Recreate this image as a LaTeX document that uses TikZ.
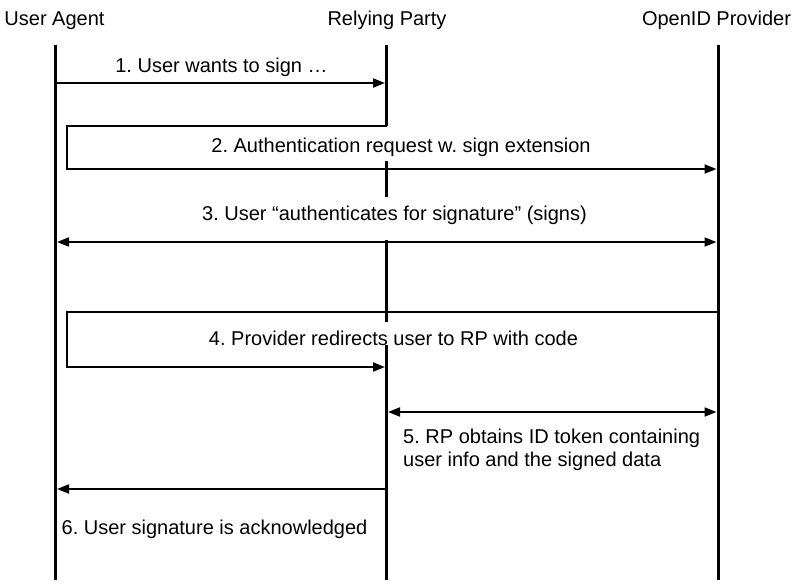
\documentclass[tikz,border=0pt]{standalone}
\usepackage{fontspec}
\setmainfont{Liberation Sans}
\usetikzlibrary{arrows.meta}
\frenchspacing
\begin{document}
\begin{tikzpicture}[x=1pt,y=-1pt,
  life/.style={line width=3pt},
  tip/.tip={Triangle[length=12pt,width=9pt]},
  msg/.style={line width=2pt,-tip},
  dmsg/.style={line width=2pt,tip-tip},
  lbl/.style={font=\fontsize{20}{23}\selectfont,inner sep=0pt,anchor=base}]
\useasboundingbox (0,0) rectangle (798,584);
% headers
\node[lbl] (ua) at (54.5,25) {User Agent};
\node[lbl] (rp) at (387,25) {Relying Party};
\node[lbl] (op) at (716.5,25) {OpenID Provider};
% lifeline points
\coordinate (ua0) at (55.5,45);  \coordinate (ua1) at (55.5,580);
\coordinate (op0) at (718,45);   \coordinate (op1) at (718,580);
\coordinate (rp0) at (386.5,45); \coordinate (rpA) at (386.5,126);
\coordinate (rpB) at (386.5,161); \coordinate (rpC) at (386.5,197);
\coordinate (rpD) at (386.5,240); \coordinate (rpE) at (386.5,322);
\coordinate (rpF) at (386.5,345); \coordinate (rp1) at (386.5,580);
% lifelines
\draw[life] (ua0) -- (ua1);
\draw[life] (op0) -- (op1);
\draw[life] (rp0) -- (rpA);
\draw[life] (rpB) -- (rpC);
\draw[life] (rpD) -- (rpE);
\draw[life] (rpF) -- (rp1);
% message endpoints
\coordinate (m1a) at (57,83);   \coordinate (m1b) at (385,83);
\coordinate (m2a) at (387,126); \coordinate (m2c) at (67,126); \coordinate (m2b) at (716.5,169);
\coordinate (m3a) at (57,242);  \coordinate (m3b) at (716.5,242);
\coordinate (m4a) at (718,312); \coordinate (m4c) at (67,312); \coordinate (m4b) at (385,367);
\coordinate (m5a) at (388,412); \coordinate (m5b) at (716.5,412);
\coordinate (m6a) at (385,489); \coordinate (m6b) at (57,489);
% messages
\draw[msg] (m1a) -- (m1b);
\draw[msg,line join=miter] (m2a) -- (m2c) |- (m2b);
\draw[dmsg] (m3a) -- (m3b);
\draw[msg,line join=miter] (m4a) -- (m4c) |- (m4b);
\draw[dmsg] (m5a) -- (m5b);
\draw[msg] (m6a) -- (m6b);
% labels
\node[lbl] (l1) at (221.5,72) {1. User wants to sign \dots};
\node[lbl] (l2) at (401,152) {2. Authentication request w. sign extension};
\node[lbl] (l3) at (394.5,220) {3. User \textquotedblleft authenticates for signature\textquotedblright\ (signs)};
\node[lbl] (l4) at (393.5,345) {4. Provider redirects user to RP with code};
\node[lbl,anchor=base west,align=left] (l5) at (403,466) {5. RP obtains ID token containing\\user info and the signed data};
\node[lbl] (l6) at (214.5,534) {6. User signature is acknowledged};
\end{tikzpicture}
\end{document}
